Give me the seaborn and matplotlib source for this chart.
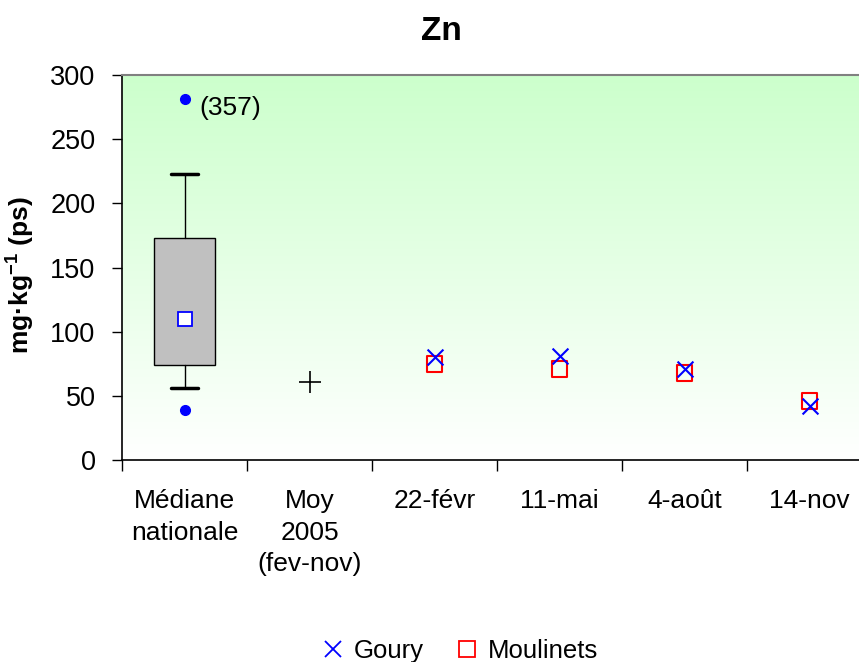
import numpy as np
import pandas as pd
import matplotlib
matplotlib.use('Agg')
import matplotlib.pyplot as plt
from matplotlib.colors import LinearSegmentedColormap
from matplotlib.lines import Line2D
import seaborn as sns

# categories on the x axis
categories = ['Médiane\nnationale', 'Moy\n2005\n(fev-nov)', '22-févr', '11-mai', '4-août', '14-nov']
dates = ['22-févr', '11-mai', '4-août', '14-nov']

# national reference box (mg/kg dry weight)
box_whislo = 56
box_q1 = 74
box_q3 = 173
box_whishi = 223
box_mean = 110
box_outliers = [39, 281]
outlier_label = '(357)'

# 2005 average
moy_2005 = 61

# series per sampling date
goury = [80, 81, 71, 42]
moulinets = [75, 71, 68, 46]

sns.set_style('white')
plt.rcParams['font.family'] = ['Liberation Sans', 'DejaVu Sans']
plt.rcParams['mathtext.fontset'] = 'custom'
plt.rcParams['mathtext.bf'] = 'Liberation Sans:bold'
plt.rcParams['mathtext.rm'] = 'Liberation Sans'
for key in ['text.color', 'axes.labelcolor', 'xtick.color', 'ytick.color']:
    plt.rcParams[key] = 'black'

fig = plt.figure(figsize=(8.59, 6.62), dpi=100)
ax = fig.add_axes([122 / 859, 202 / 662, 750 / 859, 385 / 662])

xpos = {c: i for i, c in enumerate(categories)}

# background gradient, light green at top fading to white
cmap = LinearSegmentedColormap.from_list('bg', ['#ffffff', '#ccffcc'])
grad = np.linspace(0, 1, 256).reshape(-1, 1)
ax.imshow(grad, extent=[-0.5, 5.5, 0, 300], aspect='auto', cmap=cmap,
          origin='lower', zorder=0)

# box for the national median
stats = [dict(whislo=box_whislo, q1=box_q1, med=box_mean, q3=box_q3,
              whishi=box_whishi, fliers=[])]
ax.bxp(stats, positions=[xpos[categories[0]]], widths=0.49, patch_artist=True,
       showfliers=False,
       boxprops=dict(facecolor='#c0c0c0', edgecolor='black', linewidth=1.0),
       medianprops=dict(linewidth=0),
       whiskerprops=dict(color='black', linewidth=1.0),
       capprops=dict(color='black', linewidth=2.5), capwidths=0.22,
       zorder=2)

ax.plot([xpos[categories[0]]], [box_mean], marker='s', markersize=10,
        markerfacecolor='white', markeredgecolor='blue', markeredgewidth=1.3,
        linestyle='none', zorder=3)
ax.plot([xpos[categories[0]]] * len(box_outliers), box_outliers, marker='o',
        markersize=7, color='blue', linestyle='none', zorder=3)
ax.text(xpos[categories[0]] + 0.12, 274, outlier_label, ha='left', va='center',
        fontsize=19)

# 2005 average
ax.plot([xpos[categories[1]]], [moy_2005], marker='+', markersize=16,
        markeredgewidth=1.2, color='black', linestyle='none', zorder=3)

# sampling dates
df = pd.DataFrame({'x': [xpos[d] for d in dates], 'Goury': goury,
                   'Moulinets': moulinets})
sns.scatterplot(data=df, x='x', y='Goury', ax=ax, marker='x', s=130,
                color='blue', linewidth=1.5, zorder=4, legend=False)
sns.scatterplot(data=df, x='x', y='Moulinets', ax=ax, marker='s', s=130,
                facecolor='none', edgecolor='red', linewidth=1.5, zorder=3,
                legend=False)

# axes
ax.set_xlim(-0.5, 5.5)
ax.set_ylim(0, 300)
ax.set_yticks(np.arange(0, 301, 50))
ax.set_xticks(np.arange(-0.5, 6, 1))
ax.set_xticklabels([])
ax.set_xticks(np.arange(6), minor=True)
ax.set_xticklabels(categories, minor=True, fontsize=19, linespacing=1.4)
ax.tick_params(axis='x', which='major', direction='out', length=8, width=1,
               color='black', bottom=True)
ax.tick_params(axis='x', which='minor', length=0, pad=21)
ax.tick_params(axis='y', direction='out', length=7, width=1, color='black',
               left=True, labelsize=19.5, pad=12)
ax.set_xlabel('')
ax.set_ylabel(r'mg·kg$^{\mathbf{-1}}$ (ps)', fontsize=19, fontweight='bold')
ax.yaxis.set_label_coords(-0.115, 0.48)

for side in ['left', 'bottom']:
    ax.spines[side].set_color('black')
    ax.spines[side].set_linewidth(1.2)
ax.spines['top'].set_color('#808080')
ax.spines['top'].set_linewidth(1.5)
ax.spines['right'].set_visible(False)

fig.text(441 / 859, 1 - 32 / 662, 'Zn', ha='center', va='center',
         fontsize=24, fontweight='bold')

handles = [
    Line2D([], [], marker='x', color='blue', linestyle='none', markersize=11,
           markeredgewidth=1.3),
    Line2D([], [], marker='s', markerfacecolor='none', markeredgecolor='red',
           linestyle='none', markersize=11, markeredgewidth=1.3),
]
fig.legend(handles, ['Goury', 'Moulinets'], loc='center',
           bbox_to_anchor=(458 / 859, 11 / 662), ncol=2, frameon=False,
           fontsize=18.5, handletextpad=0.2, columnspacing=1.1, handlelength=1.2)

plt.savefig('out.png', dpi=100)
plt.close()
